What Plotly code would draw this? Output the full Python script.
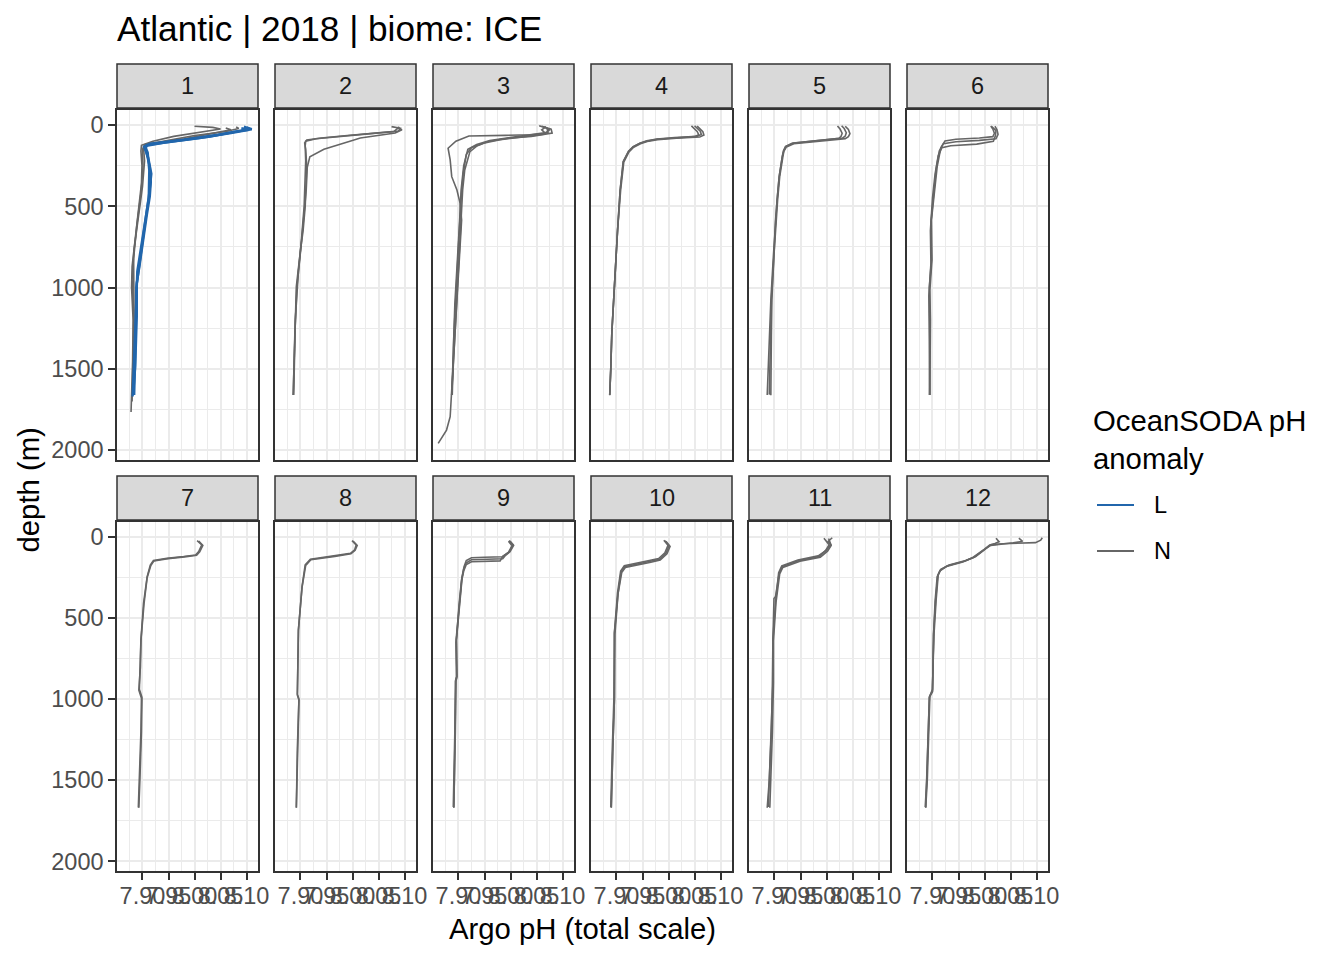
import plotly.graph_objects as go

# ---------------- data ----------------
months = list(range(1, 13))
x_ticks = [7.90, 7.95, 8.00, 8.05, 8.10]
x_tick_labels = ["7.90", "7.95", "8.00", "8.05", "8.10"]
x_minor = [7.875, 7.925, 7.975, 8.025, 8.075]
y_ticks = [0, 500, 1000, 1500, 2000]
y_tick_labels = ["0", "500", "1000", "1500", "2000"]
y_minor = [250, 750, 1250, 1750]
legend_title = "OceanSODA pH<br>anomaly"
legend_levels = ["L", "N"]

# month 1
m01_N_a_depth = [8, 15, 25, 45, 70, 100, 125, 160, 250, 360, 500, 670, 870, 1000, 1200, 1450, 1765]
m01_N_a_ph = [8.000, 8.035, 8.050, 8.010, 7.960, 7.920, 7.898, 7.897, 7.899, 7.898, 7.893, 7.888, 7.880, 7.879, 7.882, 7.881, 7.878]
m01_N_b_depth = [12, 22, 40, 65, 95, 120, 140, 220, 380, 560, 760, 950, 1150, 1400, 1700]
m01_N_b_ph = [8.080, 8.085, 8.060, 8.000, 7.950, 7.905, 7.902, 7.904, 7.900, 7.892, 7.884, 7.880, 7.883, 7.882, 7.880]
m01_N_c_depth = [18, 30, 55, 85, 110, 130, 150, 260, 420, 620, 820, 1050, 1300, 1660]
m01_N_c_ph = [8.060, 8.070, 8.030, 7.980, 7.930, 7.903, 7.900, 7.901, 7.897, 7.889, 7.883, 7.884, 7.884, 7.882]
m01_L_a_depth = [15, 26, 40, 72, 100, 123, 150, 256, 350, 441, 560, 707, 850, 973, 1178, 1486, 1660]
m01_L_a_ph = [8.100, 8.110, 8.080, 8.030, 7.960, 7.908, 7.906, 7.914, 7.916, 7.914, 7.908, 7.902, 7.895, 7.889, 7.889, 7.886, 7.882]
m01_L_b_depth = [10, 22, 35, 60, 90, 115, 135, 200, 300, 420, 600, 800, 1000, 1300, 1660]
m01_L_b_ph = [8.095, 8.105, 8.090, 8.045, 7.980, 7.915, 7.903, 7.911, 7.917, 7.913, 7.905, 7.896, 7.888, 7.887, 7.884]
m01_L_c_depth = [20, 30, 50, 80, 110, 130, 170, 280, 450, 650, 900, 1100, 1400, 1670]
m01_L_c_ph = [8.090, 8.105, 8.070, 8.010, 7.940, 7.905, 7.910, 7.913, 7.912, 7.902, 7.890, 7.888, 7.885, 7.881]

# month 2
m02_N_a_depth = [10, 20, 38, 50, 65, 80, 92, 110, 150, 256, 380, 502, 650, 769, 994, 1281, 1500, 1660]
m02_N_a_ph = [8.075, 8.092, 8.088, 8.040, 7.990, 7.940, 7.912, 7.908, 7.910, 7.912, 7.911, 7.909, 7.905, 7.900, 7.892, 7.889, 7.887, 7.886]
m02_N_b_depth = [15, 30, 49, 65, 80, 100, 123, 150, 195, 260, 400, 550, 750, 1000, 1300, 1660]
m02_N_b_ph = [8.085, 8.095, 8.082, 8.050, 8.015, 7.995, 7.970, 7.945, 7.918, 7.913, 7.911, 7.907, 7.901, 7.893, 7.889, 7.886]
m02_N_c_depth = [12, 25, 40, 55, 70, 85, 100, 130, 220, 350, 500, 700, 900, 1200, 1660]
m02_N_c_ph = [8.090, 8.085, 8.080, 8.030, 7.975, 7.930, 7.910, 7.909, 7.910, 7.909, 7.907, 7.902, 7.896, 7.890, 7.887]

# month 3
m03_N_a_depth = [10, 30, 55, 60, 64, 68, 100, 143, 215, 318, 400, 480, 584, 748, 1076, 1486, 1794, 1876, 1958]
m03_N_a_ph = [8.065, 8.075, 8.065, 8.040, 7.990, 7.920, 7.895, 7.880, 7.884, 7.887, 7.897, 7.903, 7.906, 7.903, 7.897, 7.890, 7.884, 7.877, 7.861]
m03_N_b_depth = [8, 25, 50, 70, 82, 102, 130, 164, 277, 400, 520, 700, 871, 1100, 1281, 1500, 1660]
m03_N_b_ph = [8.060, 8.078, 8.080, 8.040, 7.996, 7.957, 7.935, 7.922, 7.912, 7.908, 7.906, 7.903, 7.900, 7.896, 7.893, 7.890, 7.887]
m03_N_c_depth = [5, 20, 45, 65, 80, 95, 120, 150, 250, 400, 600, 850, 1100, 1400, 1660]
m03_N_c_ph = [8.055, 8.070, 8.072, 8.030, 7.990, 7.960, 7.935, 7.918, 7.910, 7.905, 7.902, 7.897, 7.893, 7.890, 7.887]
m03_N_d_depth = [12, 30, 55, 75, 90, 110, 140, 180, 300, 500, 750, 1000, 1300, 1660]
m03_N_d_ph = [8.068, 8.060, 8.068, 8.020, 7.980, 7.950, 7.925, 7.915, 7.909, 7.904, 7.900, 7.895, 7.891, 7.888]

# month 4
m04_N_a_depth = [6, 20, 40, 60, 72, 80, 88, 100, 113, 135, 164, 226, 400, 650, 912, 1100, 1281, 1500, 1660]
m04_N_a_ph = [8.044, 8.048, 8.055, 8.058, 8.050, 8.010, 7.977, 7.958, 7.945, 7.932, 7.923, 7.913, 7.907, 7.902, 7.897, 7.894, 7.891, 7.889, 7.887]
m04_N_b_depth = [5, 18, 38, 58, 70, 78, 86, 98, 112, 133, 162, 224, 400, 650, 912, 1100, 1281, 1500, 1662]
m04_N_b_ph = [8.050, 8.054, 8.061, 8.063, 8.055, 8.012, 7.978, 7.958, 7.945, 7.932, 7.923, 7.913, 7.907, 7.902, 7.897, 7.894, 7.891, 7.889, 7.887]
m04_N_c_depth = [7, 22, 42, 62, 74, 82, 90, 102, 115, 137, 166, 228, 400, 650, 912, 1100, 1281, 1500, 1658]
m04_N_c_ph = [8.055, 8.059, 8.066, 8.068, 8.060, 8.015, 7.979, 7.959, 7.946, 7.933, 7.924, 7.914, 7.908, 7.902, 7.897, 7.894, 7.891, 7.889, 7.887]

# month 5
m05_N_a_depth = [6, 25, 51, 70, 82, 90, 96, 105, 113, 133, 160, 195, 318, 461, 584, 800, 1076, 1300, 1500, 1660]
m05_N_a_ph = [8.021, 8.026, 8.030, 8.028, 8.024, 8.000, 7.979, 7.955, 7.934, 7.921, 7.917, 7.915, 7.909, 7.905, 7.902, 7.898, 7.893, 7.890, 7.888, 7.886]
m05_N_b_depth = [5, 22, 48, 68, 80, 88, 94, 103, 111, 131, 158, 193, 318, 461, 584, 800, 1076, 1300, 1500, 1662]
m05_N_b_ph = [8.029, 8.034, 8.038, 8.036, 8.031, 8.005, 7.982, 7.957, 7.936, 7.922, 7.918, 7.915, 7.909, 7.905, 7.902, 7.899, 7.895, 7.894, 7.893, 7.893]
m05_N_c_depth = [8, 28, 54, 72, 84, 92, 98, 107, 115, 135, 162, 197, 318, 461, 584, 800, 1076, 1300, 1500, 1658]
m05_N_c_ph = [8.036, 8.042, 8.045, 8.042, 8.036, 8.008, 7.984, 7.958, 7.937, 7.923, 7.918, 7.916, 7.910, 7.906, 7.903, 7.899, 7.894, 7.892, 7.891, 7.890]

# month 6
m06_N_a_depth = [6, 25, 51, 72, 80, 88, 98, 140, 256, 420, 584, 830, 1015, 1200, 1500, 1660]
m06_N_a_ph = [8.012, 8.016, 8.019, 8.016, 7.990, 7.945, 7.924, 7.916, 7.909, 7.903, 7.898, 7.899, 7.895, 7.896, 7.895, 7.895]
m06_N_b_depth = [8, 30, 58, 85, 95, 103, 115, 160, 270, 430, 600, 830, 1000, 1250, 1660]
m06_N_b_ph = [8.020, 8.024, 8.026, 8.022, 7.990, 7.945, 7.921, 7.913, 7.907, 7.902, 7.897, 7.898, 7.894, 7.895, 7.894]
m06_N_c_depth = [10, 35, 65, 100, 118, 128, 140, 190, 300, 450, 650, 850, 1050, 1300, 1660]
m06_N_c_ph = [8.014, 8.022, 8.021, 8.017, 7.985, 7.935, 7.918, 7.911, 7.905, 7.900, 7.896, 7.897, 7.893, 7.894, 7.895]

# month 7
m07_N_a_depth = [23, 49, 90, 111, 121, 132, 146, 173, 245, 409, 635, 800, 940, 990, 1200, 1500, 1670]
m07_N_a_ph = [8.005, 8.014, 8.008, 8.002, 7.979, 7.947, 7.921, 7.915, 7.909, 7.902, 7.897, 7.896, 7.894, 7.899, 7.898, 7.895, 7.893]
m07_N_b_depth = [25, 52, 92, 113, 123, 134, 148, 176, 250, 410, 640, 800, 945, 995, 1200, 1500, 1668]
m07_N_b_ph = [8.008, 8.016, 8.010, 8.004, 7.981, 7.949, 7.922, 7.916, 7.909, 7.903, 7.897, 7.896, 7.893, 7.898, 7.897, 7.894, 7.892]

# month 8
m08_N_a_depth = [23, 49, 80, 101, 117, 128, 138, 173, 306, 573, 800, 970, 1000, 1300, 1670]
m08_N_a_ph = [7.999, 8.007, 8.004, 7.996, 7.964, 7.935, 7.919, 7.909, 7.903, 7.896, 7.895, 7.894, 7.897, 7.895, 7.892]
m08_N_b_depth = [26, 52, 83, 104, 120, 131, 141, 176, 310, 575, 800, 975, 1005, 1300, 1668]
m08_N_b_ph = [8.001, 8.009, 8.005, 7.997, 7.966, 7.936, 7.920, 7.910, 7.903, 7.896, 7.895, 7.894, 7.897, 7.894, 7.892]

# month 9
m09_N_a_depth = [23, 49, 90, 111, 122, 125, 128, 145, 180, 250, 409, 635, 860, 890, 1200, 1500, 1670]
m09_N_a_ph = [7.997, 8.005, 7.998, 7.989, 7.985, 7.950, 7.925, 7.915, 7.911, 7.907, 7.902, 7.896, 7.897, 7.895, 7.894, 7.892, 7.891]
m09_N_b_depth = [25, 52, 92, 115, 135, 138, 141, 160, 195, 260, 420, 640, 860, 890, 1200, 1500, 1668]
m09_N_b_ph = [7.999, 8.006, 7.999, 7.990, 7.985, 7.950, 7.925, 7.915, 7.910, 7.906, 7.901, 7.896, 7.897, 7.895, 7.894, 7.892, 7.891]
m09_N_c_depth = [27, 54, 95, 120, 148, 150, 153, 170, 210, 270, 430, 650, 860, 890, 1200, 1500, 1666]
m09_N_c_ph = [7.996, 8.003, 7.996, 7.985, 7.980, 7.950, 7.925, 7.915, 7.910, 7.906, 7.901, 7.895, 7.896, 7.894, 7.893, 7.891, 7.890]

# month 10
m10_N_a_depth = [23, 55, 101, 138, 150, 162, 183, 214, 347, 594, 800, 1000, 1300, 1670]
m10_N_a_ph = [7.993, 8.001, 7.995, 7.983, 7.965, 7.945, 7.916, 7.909, 7.903, 7.896, 7.896, 7.896, 7.893, 7.890]
m10_N_b_depth = [26, 58, 104, 143, 156, 168, 189, 220, 350, 600, 800, 1000, 1300, 1668]
m10_N_b_ph = [7.995, 8.003, 7.997, 7.984, 7.966, 7.946, 7.917, 7.910, 7.903, 7.897, 7.896, 7.896, 7.893, 7.890]
m10_N_c_depth = [21, 52, 98, 133, 145, 157, 178, 210, 345, 590, 800, 1000, 1300, 1665]
m10_N_c_ph = [7.991, 7.999, 7.993, 7.981, 7.963, 7.943, 7.915, 7.908, 7.902, 7.896, 7.895, 7.895, 7.892, 7.889]

# month 11
m11_N_a_depth = [8, 30, 49, 85, 121, 146, 183, 224, 330, 368, 380, 635, 900, 1200, 1500, 1670]
m11_N_a_ph = [7.995, 8.000, 8.005, 7.998, 7.986, 7.947, 7.915, 7.909, 7.903, 7.902, 7.899, 7.897, 7.897, 7.894, 7.890, 7.886]
m11_N_b_depth = [10, 32, 52, 88, 125, 150, 188, 228, 400, 640, 900, 1200, 1500, 1670]
m11_N_b_ph = [8.004, 8.006, 8.009, 8.002, 7.988, 7.949, 7.916, 7.910, 7.903, 7.898, 7.898, 7.896, 7.893, 7.891]
m11_N_c_depth = [5, 28, 47, 82, 117, 142, 178, 220, 400, 630, 900, 1200, 1500, 1665]
m11_N_c_ph = [8.011, 8.003, 8.008, 8.000, 7.984, 7.945, 7.914, 7.908, 7.902, 7.897, 7.896, 7.894, 7.890, 7.888]

# month 12
m12_N_a_depth = [5, 20, 35, 38, 42, 49, 70, 90, 121, 146, 173, 200, 234, 388, 594, 800, 940, 980, 1200, 1500, 1670]
m12_N_a_ph = [8.111, 8.108, 8.098, 8.070, 8.035, 8.012, 8.003, 7.996, 7.983, 7.964, 7.932, 7.916, 7.911, 7.907, 7.903, 7.901, 7.900, 7.895, 7.893, 7.890, 7.887]
m12_N_b_depth = [8, 28, 36, 44, 52, 72, 92, 125, 150, 178, 205, 240, 390, 600, 800, 950, 985, 1200, 1500, 1668]
m12_N_b_ph = [8.066, 8.073, 8.055, 8.030, 8.012, 8.002, 7.994, 7.980, 7.961, 7.929, 7.915, 7.910, 7.906, 7.902, 7.901, 7.900, 7.894, 7.892, 7.889, 7.887]
m12_N_c_depth = [8, 30, 40, 50, 75, 95, 128, 155, 182, 210, 245, 395, 605, 800, 955, 990, 1200, 1500, 1665]
m12_N_c_ph = [8.022, 8.028, 8.020, 8.010, 8.000, 7.992, 7.977, 7.958, 7.927, 7.914, 7.909, 7.905, 7.902, 7.901, 7.900, 7.894, 7.892, 7.889, 7.886]

profiles = [
    (1, "N", m01_N_a_depth, m01_N_a_ph), (1, "N", m01_N_b_depth, m01_N_b_ph), (1, "N", m01_N_c_depth, m01_N_c_ph),
    (1, "L", m01_L_a_depth, m01_L_a_ph), (1, "L", m01_L_b_depth, m01_L_b_ph), (1, "L", m01_L_c_depth, m01_L_c_ph),
    (2, "N", m02_N_a_depth, m02_N_a_ph), (2, "N", m02_N_b_depth, m02_N_b_ph), (2, "N", m02_N_c_depth, m02_N_c_ph),
    (3, "N", m03_N_a_depth, m03_N_a_ph), (3, "N", m03_N_b_depth, m03_N_b_ph), (3, "N", m03_N_c_depth, m03_N_c_ph),
    (3, "N", m03_N_d_depth, m03_N_d_ph),
    (4, "N", m04_N_a_depth, m04_N_a_ph), (4, "N", m04_N_b_depth, m04_N_b_ph), (4, "N", m04_N_c_depth, m04_N_c_ph),
    (5, "N", m05_N_a_depth, m05_N_a_ph), (5, "N", m05_N_b_depth, m05_N_b_ph), (5, "N", m05_N_c_depth, m05_N_c_ph),
    (6, "N", m06_N_a_depth, m06_N_a_ph), (6, "N", m06_N_b_depth, m06_N_b_ph), (6, "N", m06_N_c_depth, m06_N_c_ph),
    (7, "N", m07_N_a_depth, m07_N_a_ph), (7, "N", m07_N_b_depth, m07_N_b_ph),
    (8, "N", m08_N_a_depth, m08_N_a_ph), (8, "N", m08_N_b_depth, m08_N_b_ph),
    (9, "N", m09_N_a_depth, m09_N_a_ph), (9, "N", m09_N_b_depth, m09_N_b_ph), (9, "N", m09_N_c_depth, m09_N_c_ph),
    (10, "N", m10_N_a_depth, m10_N_a_ph), (10, "N", m10_N_b_depth, m10_N_b_ph), (10, "N", m10_N_c_depth, m10_N_c_ph),
    (11, "N", m11_N_a_depth, m11_N_a_ph), (11, "N", m11_N_b_depth, m11_N_b_ph), (11, "N", m11_N_c_depth, m11_N_c_ph),
    (12, "N", m12_N_a_depth, m12_N_a_ph), (12, "N", m12_N_b_depth, m12_N_b_ph), (12, "N", m12_N_c_depth, m12_N_c_ph),
]

# ---------------- styling ----------------
W, H = 1344, 960
FONT = "Liberation Sans, Arial, sans-serif"
COLORS = {"L": "#2166AC", "N": "#666666"}
WIDTHS = {"L": 2.4, "N": 1.6}
X_RANGE = [7.851, 8.122]
Y_RANGE = [2060, -92]


def ax_suffix(i):
    return "" if i == 1 else str(i)


fig = go.Figure()
for anom in ["N", "L"]:
    for month, a, d, p in profiles:
        if a != anom:
            continue
        s = ax_suffix(month)
        fig.add_trace(go.Scatter(
            x=p, y=d, mode="lines", name=a,
            line=dict(color=COLORS[a], width=WIDTHS[a]),
            xaxis="x" + s, yaxis="y" + s,
            showlegend=False, hoverinfo="skip"))

layout = dict(
    width=W, height=H,
    margin=dict(l=0, r=0, t=0, b=0, autoexpand=False),
    paper_bgcolor="white", plot_bgcolor="white",
    font=dict(family=FONT, color="#000000"),
    showlegend=False,
)

shapes = []
annotations = []
for idx, month in enumerate(months):
    r, c = divmod(idx, 6)
    left = 117 + 158 * c
    right = left + 141
    top, bot = (110, 460) if r == 0 else (522, 871)
    s = ax_suffix(month)
    bottom_row = (r == 1)
    left_col = (c == 0)
    layout["xaxis" + s] = dict(
        domain=[left / W, right / W], range=X_RANGE, anchor="y" + s,
        tickmode="array", tickvals=x_ticks, ticktext=x_tick_labels,
        showticklabels=bottom_row, ticks="outside" if bottom_row else "",
        ticklen=7, tickwidth=2, tickcolor="#333333", tickangle=0,
        ticklabelstandoff=-4,
        tickfont=dict(size=23.5, color="#4D4D4D", family=FONT),
        showgrid=True, gridcolor="#EBEBEB", gridwidth=2,
        minor=dict(tickmode="array", tickvals=x_minor, showgrid=True,
                   gridcolor="#EBEBEB", gridwidth=1, ticks=""),
        showline=True, mirror=True, linecolor="#333333", linewidth=1.5,
        zeroline=False, fixedrange=True)
    layout["yaxis" + s] = dict(
        domain=[1 - bot / H, 1 - top / H], range=Y_RANGE, anchor="x" + s,
        tickmode="array", tickvals=y_ticks, ticktext=y_tick_labels,
        showticklabels=left_col, ticks="outside" if left_col else "",
        ticklen=7, tickwidth=2, tickcolor="#333333",
        tickfont=dict(size=23.5, color="#4D4D4D", family=FONT),
        showgrid=True, gridcolor="#EBEBEB", gridwidth=2,
        minor=dict(tickmode="array", tickvals=y_minor, showgrid=True,
                   gridcolor="#EBEBEB", gridwidth=1, ticks=""),
        showline=True, mirror=True, linecolor="#333333", linewidth=1.5,
        zeroline=False, fixedrange=True)
    st_top, st_bot = (64, 108) if r == 0 else (476, 520)
    shapes.append(dict(type="rect", xref="paper", yref="paper",
                       x0=left / W, x1=right / W, y0=1 - st_bot / H, y1=1 - st_top / H,
                       fillcolor="#D9D9D9", line=dict(color="#333333", width=1.5), layer="above"))
    annotations.append(dict(text=str(month), xref="paper", yref="paper",
                            x=(left + right) / 2 / W, y=1 - (st_top + st_bot) / 2 / H,
                            xanchor="center", yanchor="middle", showarrow=False,
                            font=dict(size=23.5, color="#1A1A1A", family=FONT)))

# legend (drawn as in ggplot's guide)
annotations.append(dict(text=legend_title, xref="paper", yref="paper",
                        x=1091 / W, y=1 - 439 / H, xanchor="left", yanchor="middle",
                        align="left", showarrow=False,
                        font=dict(size=29.3, color="#000000", family=FONT)))
for i, lev in enumerate(legend_levels):
    yc = 505 + 46 * i
    shapes.append(dict(type="line", xref="paper", yref="paper",
                       x0=1097 / W, x1=1134 / W, y0=1 - yc / H, y1=1 - yc / H,
                       line=dict(color=COLORS[lev], width=2)))
    annotations.append(dict(text=lev, xref="paper", yref="paper",
                            x=1152 / W, y=1 - yc / H, xanchor="left", yanchor="middle",
                            showarrow=False,
                            font=dict(size=23.5, color="#000000", family=FONT)))

annotations.append(dict(text="Atlantic | 2018 | biome: ICE", xref="paper", yref="paper",
                        x=115 / W, y=1 - 29 / H, xanchor="left", yanchor="middle",
                        showarrow=False, font=dict(size=35.2, color="#000000", family=FONT)))
annotations.append(dict(text="Argo pH (total scale)", xref="paper", yref="paper",
                        x=582.5 / W, y=1 - 928 / H, xanchor="center", yanchor="middle",
                        showarrow=False, font=dict(size=29.3, color="#000000", family=FONT)))
annotations.append(dict(text="depth (m)", xref="paper", yref="paper",
                        x=28 / W, y=1 - 490.5 / H, xanchor="center", yanchor="middle",
                        textangle=-90, showarrow=False,
                        font=dict(size=29.3, color="#000000", family=FONT)))

layout["shapes"] = shapes
layout["annotations"] = annotations
fig.update_layout(**layout)

fig.write_html("out.html", config={"displayModeBar": False},
               post_script="document.body.style.margin='0';document.body.style.overflow='hidden';")
